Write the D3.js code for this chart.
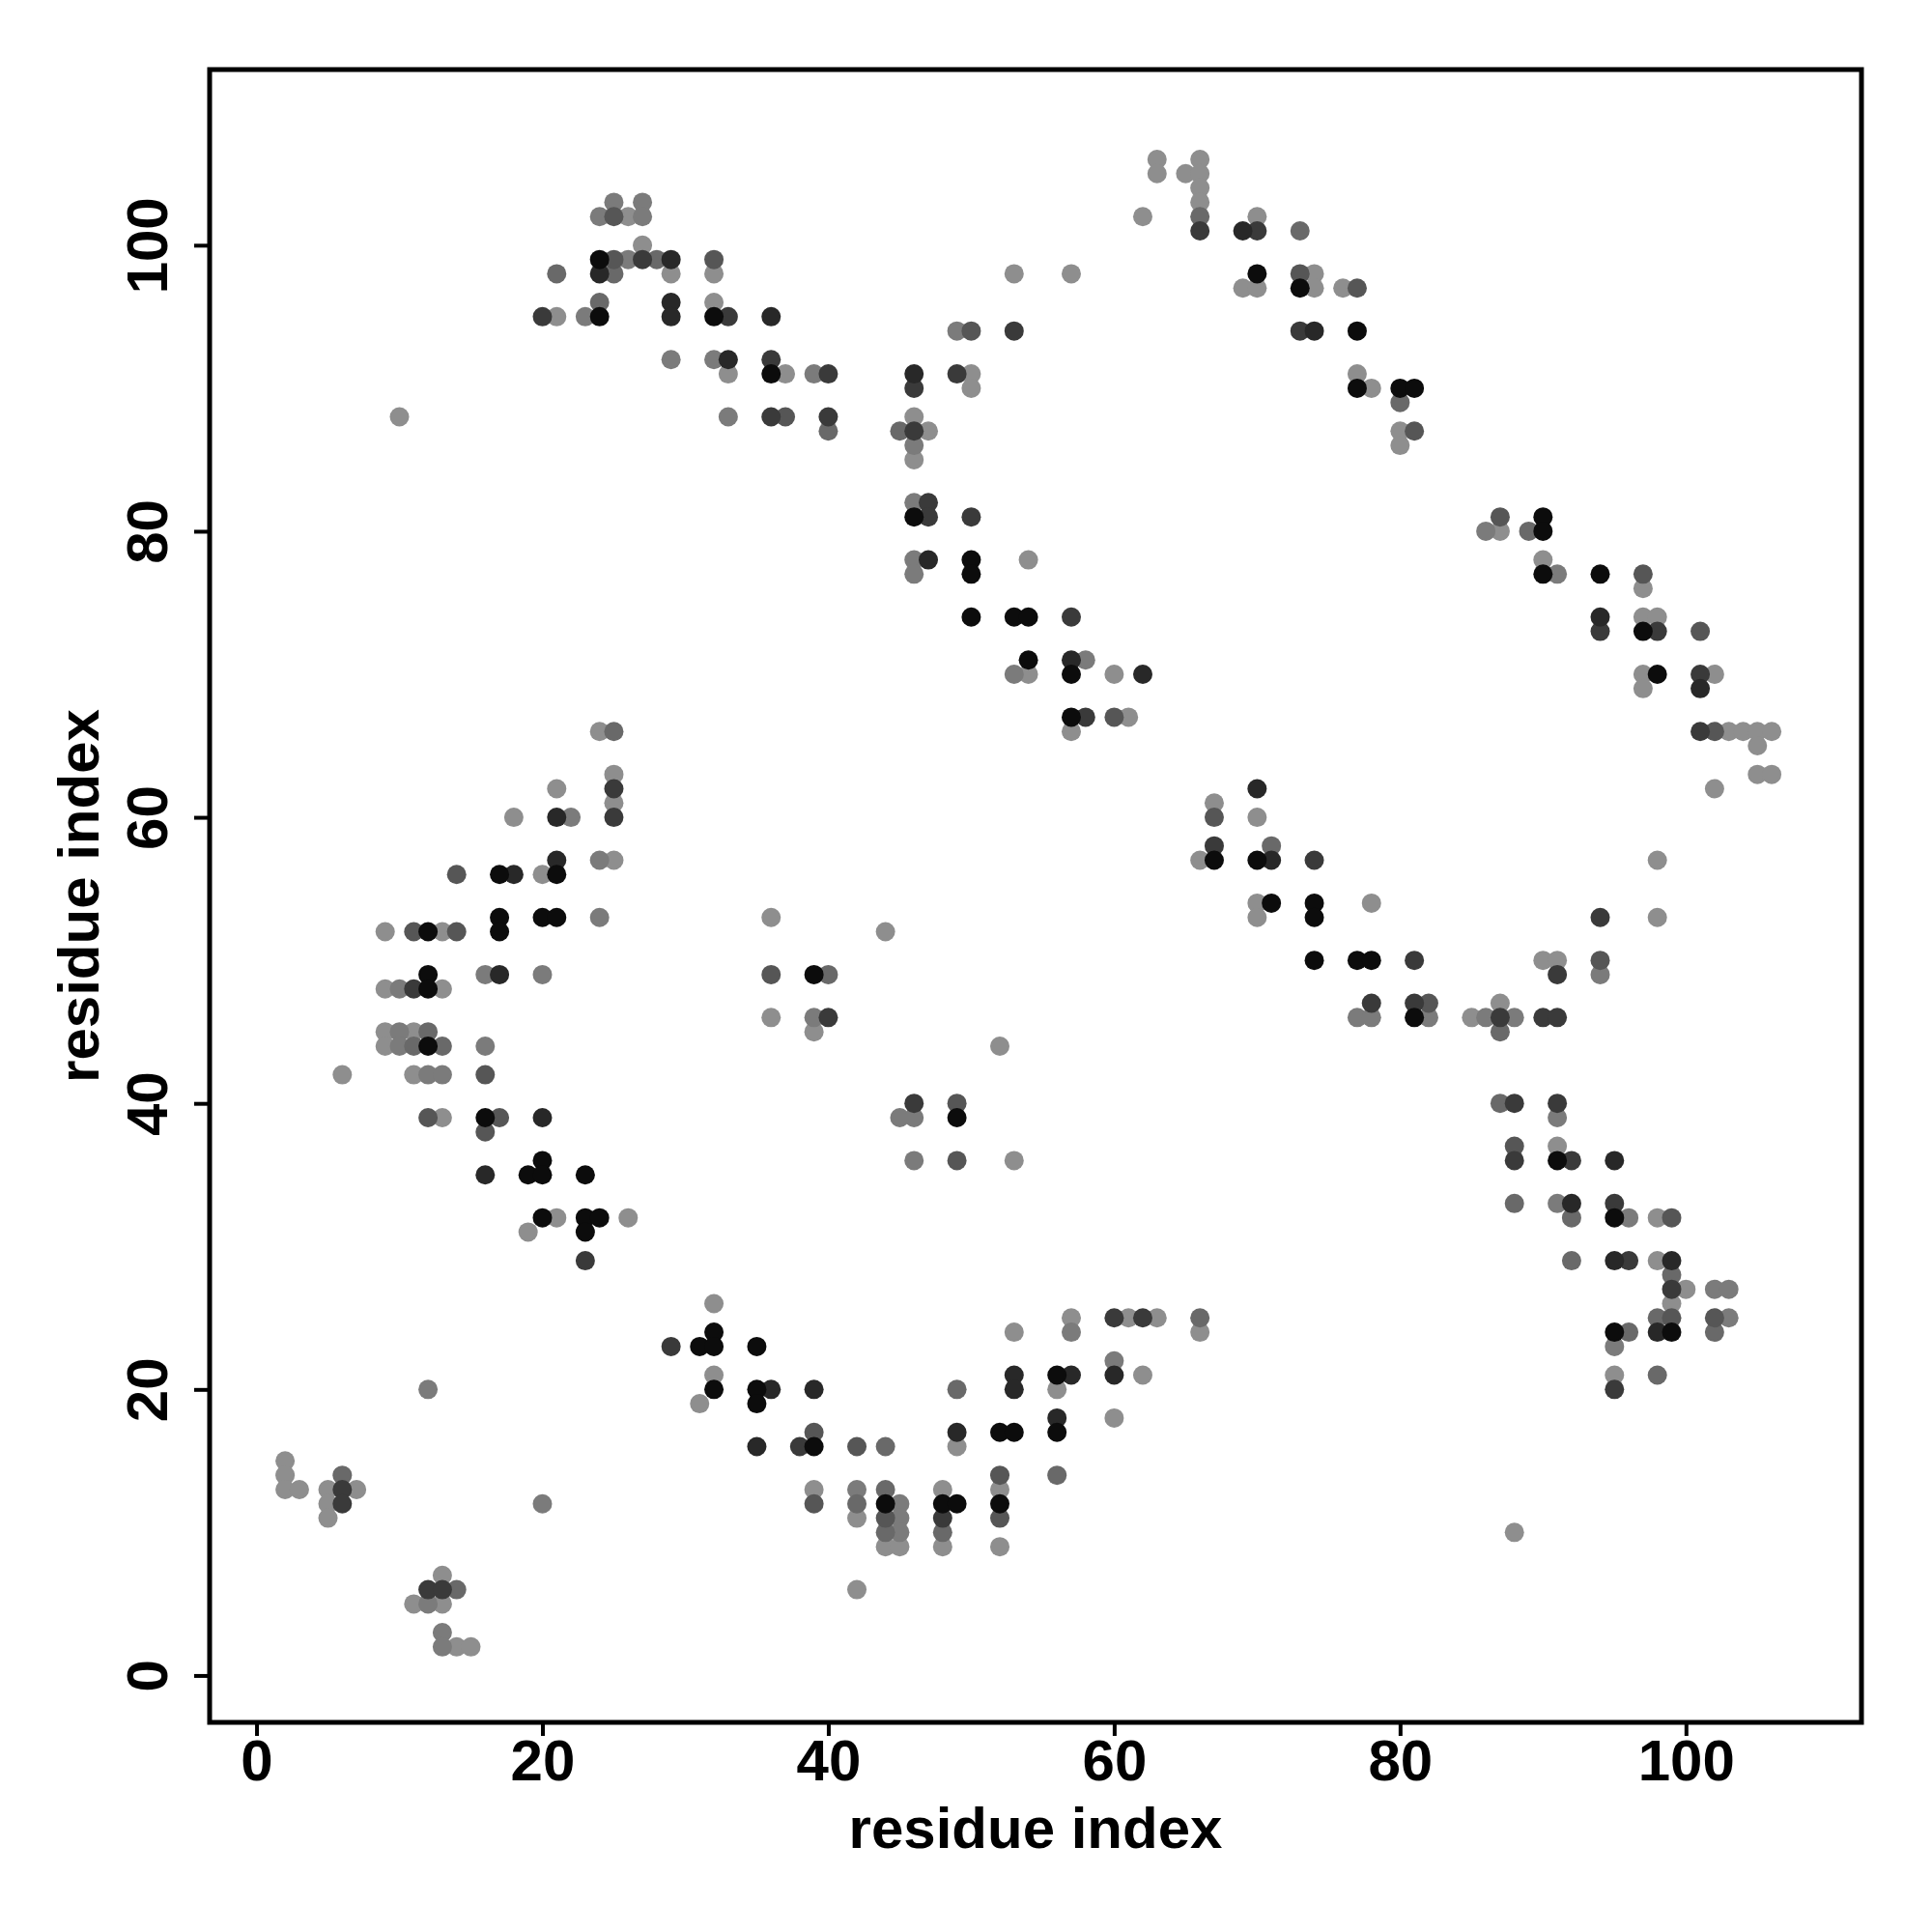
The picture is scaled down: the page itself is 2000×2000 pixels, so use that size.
<!DOCTYPE html>
<html><head><meta charset="utf-8">
<script src="https://cdn.jsdelivr.net/npm/d3@7"></script>
<style>body{margin:0;background:#fff}</style>
</head><body>
<svg id="chart" width="2000" height="2000"></svg>
<script>
// residue pair i (x) for each contact
const residueI = [
  25,24,25,24,25,21,24,25,24,24,20,21,23,10,
  27,26,27,27,26,27,28,29,29,32,32,29,29,32,32,33,36,29,32,33,33,36,36,37,39,40,33,36,37,40,40,46,46,49,50,50,49,50,53,53,46,45,46,47,46,46,46,47,46,47,50,46,47,46,50,50,54,50,53,54,
  63,63,65,66,66,66,66,66,66,62,69,70,70,73,57,70,69,70,73,74,73,74,76,77,73,74,77,77,77,78,80,81,80,80,81,80,57,
  87,86,87,89,90,90,90,90,91,94,97,97,94,97,98,
  24,25,25,25,25,25,21,18,21,22,21,21,20,24,25,14,17,18,17,17,20,21,24,9,11,12,13,14,12,9,10,11,12,13,16,17,20,9,10,11,12,9,10,11,12,13,16,6,11,12,13,16,12,13,16,17,16,20,20,16,19,20,23,
  54,53,54,36,44,36,39,40,36,39,40,39,52,46,45,46,49,49,46,49,53,
  57,58,57,60,62,57,58,60,61,57,70,67,67,70,67,66,67,70,71,71,74,70,71,70,74,74,78,74,77,78,81,78,77,78,81,82,81,82,
  94,97,98,101,97,98,97,101,102,101,101,102,103,104,105,106,105,105,106,102,98,94,98,90,91,91,94,94,85,86,87,88,87,87,90,91,87,88,91,91,88,88,91,91,92,95,
  20,21,19,23,24,23,23,26,12,20,2,2,2,3,5,6,6,7,5,6,5,13,12,13,14,11,12,13,13,13,14,15,
  32,29,31,32,32,35,32,32,31,35,36,35,39,35,38,39,39,42,44,39,39,42,42,42,44,44,45,44,45,44,45,44,45,42,48,48,49,48,48,48,49,49,49,52,52,52,52,52,52,53,53,53,53,
  57,57,60,61,62,63,66,66,56,57,56,60,60,62,56,56,60,56,
  88,91,92,92,95,95,96,98,99,92,95,96,98,99,99,99,100,102,103,99,98,99,102,103,98,99,102,95,96,95,95,95,98,88
];
// residue pair j (y) for each contact
const residueJ = [
  103,102,102,99,99,98,98,98,96,95,95,95,95,88,
  103,102,102,100,99,99,99,99,98,99,98,96,95,96,95,95,95,92,92,92,91,92,91,91,91,91,88,88,88,88,87,91,90,91,91,90,94,94,94,98,88,87,87,87,86,85,82,82,81,81,81,78,78,77,78,77,78,74,74,74,
  106,105,105,106,105,104,103,102,101,102,101,101,102,101,98,98,97,97,98,98,97,97,97,97,94,94,94,91,90,90,90,90,89,87,87,86,74,
  81,80,80,80,81,80,78,77,77,77,77,76,74,74,74,
  66,66,63,62,61,60,62,60,60,60,57,56,56,57,57,56,56,56,53,52,53,53,53,52,52,52,52,52,49,48,48,48,48,48,49,49,49,45,45,45,45,44,44,44,44,44,44,42,42,42,42,42,39,39,39,39,38,39,36,35,35,35,35,
  71,70,70,53,52,49,49,49,46,46,46,45,44,40,39,39,40,39,36,36,36,
  71,71,70,70,70,67,67,67,67,66,62,61,60,60,58,57,57,57,57,58,57,54,54,53,54,53,54,50,50,50,50,47,46,46,47,47,46,46,
  73,73,73,73,70,70,69,70,70,69,66,66,66,66,66,66,65,63,63,62,57,53,53,50,50,49,50,49,46,46,46,46,47,45,46,46,40,40,40,39,37,36,37,36,36,36,
  32,32,31,32,32,31,29,32,20,12,15,14,13,13,13,14,13,13,12,12,11,7,6,6,6,5,5,5,3,2,2,2,
  26,23,23,24,23,23,21,20,19,20,20,19,20,16,16,16,17,16,16,13,12,13,12,11,13,12,12,11,11,10,10,9,9,6,13,12,12,11,10,9,20,17,16,14,13,12,11,9,17,17,21,20,24,
  25,24,25,25,25,25,25,24,21,21,20,22,21,21,18,17,18,14,
  33,33,33,32,33,32,32,32,32,29,29,29,29,29,28,27,27,27,27,26,25,25,25,25,24,24,24,24,24,23,21,20,21,10
];
// contact score (darker = higher)
const contactScore = [
  0.4,0.4,0.6,1,0.6,0.5,0.85,0.5,0.5,1,0.75,0.3,0.4,0.3,
  0.4,0.3,0.4,0.3,0.4,0.75,0.5,0.85,0.3,0.6, 0.3,0.85,0.85,0.3,1,0.75,0.85,0.4,0.4,0.85, 0.3,0.75,1,0.3,0.4,0.75,0.4,0.75,0.6,0.75, 0.5,0.85,0.75,0.75,0.3,0.3,0.4,0.6,0.75,0.3, 0.3,0.5,0.75,0.3,0.4,0.3,0.4,0.75,1,0.75, 0.75,0.4,0.85,0.4,1,1,0.3,1,1,1,
  0.3,0.3,0.3,0.3,0.3,0.3,0.3,0.5,0.75,0.3, 0.85,0.75,0.3,0.5,0.3,1,0.3,0.3,0.6,0.3, 1,0.3,0.3,0.6,0.75,0.85,1,0.3,1,0.3, 1,1,0.5,0.3,0.6,0.3,0.75,
  0.6,0.4,0.3,0.5,1,1,0.3,1,0.4,1,0.6,0.3,0.85,0.3,0.3,
  0.3,0.5,0.3,0.75,0.3,0.75,0.3,0.3,0.85,0.4, 0.85,1,0.3,0.4,0.3,0.6,1,0.85,1,1, 1,1,0.4,0.3,0.6,1,0.3,0.6,1,0.3, 0.4,0.75,1,0.3,0.4,0.85,0.4,0.3,0.4,0.3, 0.5,0.3,0.4,0.5,1,0.5,0.4,0.3,0.3,0.4, 0.4,0.6,0.6,0.3,1,0.6,0.6,0.85,1,0.85, 1,1,1,
  1,0.4,0.3,0.3,0.3,0.6,1,0.5,0.3,0.4, 0.75,0.3,0.3,0.75,0.4,0.4,0.6,1,0.4,0.6,0.3,
  0.85,0.4,1,0.3,0.85,1,0.75,0.6,0.3,0.3, 0.85,0.3,0.6,0.3,0.75,0.3,1,1,0.85,0.5, 0.75,0.3,1,0.3,1,1,0.3,1,1,1, 0.75,0.75,0.4,0.4,0.75,0.6,1,0.4,
  0.75,1,0.75,0.6,0.3,1,0.3,0.75,0.3,0.85, 0.75,0.6,0.3,0.3,0.3,0.3,0.3,0.3,0.3,0.3, 0.3,0.75,0.3,0.3,0.3,0.75,0.6,0.4,0.3,0.4, 0.75,0.4,0.3,0.5,0.75,0.75,0.5,0.75,0.75,0.4, 0.6,0.75,0.3,1,0.75,0.85,
  1,0.3,0.3,1,1,1,0.75,0.3,0.4,0.4, 0.3,0.3,0.3,0.3,0.3,0.5,0.75,0.3,0.3,0.75, 0.3,0.3,0.75,0.75,0.5,0.3,0.4,0.3,0.4,0.4,0.3,0.3,
  0.3,0.75,1,1,1,1,0.3,1,0.3,1, 0.85,1,0.85,0.85,0.75,1,0.6,0.6,0.5,0.3, 0.6,0.4,0.5,0.3,0.5,1,0.4,0.6,0.4,0.5, 0.4,0.3,0.3,0.3,0.3,1,1,0.75,0.5,0.3, 0.5,0.85,0.3,0.6,0.3,1,0.6,0.3,1,1, 0.85,0.85,0.3,
  0.3,0.4,0.75,0.3,0.75,0.3,0.5,0.3,1,0.85, 0.3,0.4,0.85,0.3,0.85,1,0.3,0.5,
  0.5,0.4,0.85,0.5,0.75,1,0.4,0.3,0.6,0.5, 0.85,0.75,0.3,0.85,0.5,0.75,0.3,0.4,0.4,0.3, 0.5,0.6,0.6,0.4,0.85,1,0.5,1,0.5,0.4, 0.3,0.75,0.5,0.3
];
const tickValues = [0, 20, 40, 60, 80, 100];
const xTitle = "residue index";
const yTitle = "residue index";

if (residueI.length !== residueJ.length || residueI.length !== contactScore.length) {
  throw new Error("length mismatch " + residueI.length + " " + residueJ.length + " " + contactScore.length);
}

const svg = d3.select("#chart");
const frame = {left: 217, right: 1927, top: 72, bottom: 1783};
const domain = [-3.28, 112.28];
const x = d3.scaleLinear().domain(domain).range([frame.left, frame.right]);
const y = d3.scaleLinear().domain(domain).range([frame.bottom, frame.top]);
const grayLevel = d3.scaleLinear().domain([0.3, 1]).range([142, 12]).clamp(true);
const fontFam = "'Liberation Sans', Arial, Helvetica, sans-serif";
const fs = 60;

svg.append("rect").attr("width", 2000).attr("height", 2000).attr("fill", "#fff");

const data = residueI.map((d, k) => ({i: d, j: residueJ[k], s: contactScore[k]}))
  .sort((a, b) => a.s - b.s);

svg.append("g").selectAll("circle").data(data).join("circle")
  .attr("cx", d => x(d.i))
  .attr("cy", d => y(d.j))
  .attr("r", 10)
  .attr("fill", d => { const g = Math.round(grayLevel(d.s)); return `rgb(${g},${g},${g})`; });

// x axis
const gx = svg.append("g").attr("transform", `translate(0,${frame.bottom})`)
  .call(d3.axisBottom(x).tickValues(tickValues).tickSize(14).tickPadding(3).tickFormat(d3.format("d")));
gx.select(".domain").remove();
gx.selectAll(".tick line").attr("stroke", "#000").attr("stroke-width", 4);
gx.selectAll(".tick text").attr("fill", "#000").attr("font-size", fs).attr("font-weight", "bold")
  .attr("font-family", fontFam);

// y axis
const gy = svg.append("g").attr("transform", `translate(${frame.left},0)`)
  .call(d3.axisLeft(y).tickValues(tickValues).tickSize(16).tickFormat(d3.format("d")));
gy.select(".domain").remove();
gy.selectAll(".tick line").attr("stroke", "#000").attr("stroke-width", 4);
gy.selectAll(".tick text")
  .attr("fill", "#000").attr("font-size", fs).attr("font-weight", "bold").attr("font-family", fontFam)
  .attr("text-anchor", "middle").attr("dy", null)
  .attr("x", 0).attr("y", -44)
  .attr("transform", "rotate(-90)");

// frame
svg.append("rect")
  .attr("x", frame.left).attr("y", frame.top)
  .attr("width", frame.right - frame.left).attr("height", frame.bottom - frame.top)
  .attr("fill", "none").attr("stroke", "#000").attr("stroke-width", 5);

// titles
svg.append("text").attr("x", (frame.left + frame.right) / 2).attr("y", 1913)
  .attr("text-anchor", "middle").attr("font-size", fs).attr("font-weight", "bold")
  .attr("font-family", fontFam).attr("fill", "#000").text(xTitle);
svg.append("text")
  .attr("transform", `translate(102,${(frame.top + frame.bottom) / 2}) rotate(-90)`)
  .attr("text-anchor", "middle").attr("font-size", fs).attr("font-weight", "bold")
  .attr("font-family", fontFam).attr("fill", "#000").text(yTitle);
</script>
</body></html>
